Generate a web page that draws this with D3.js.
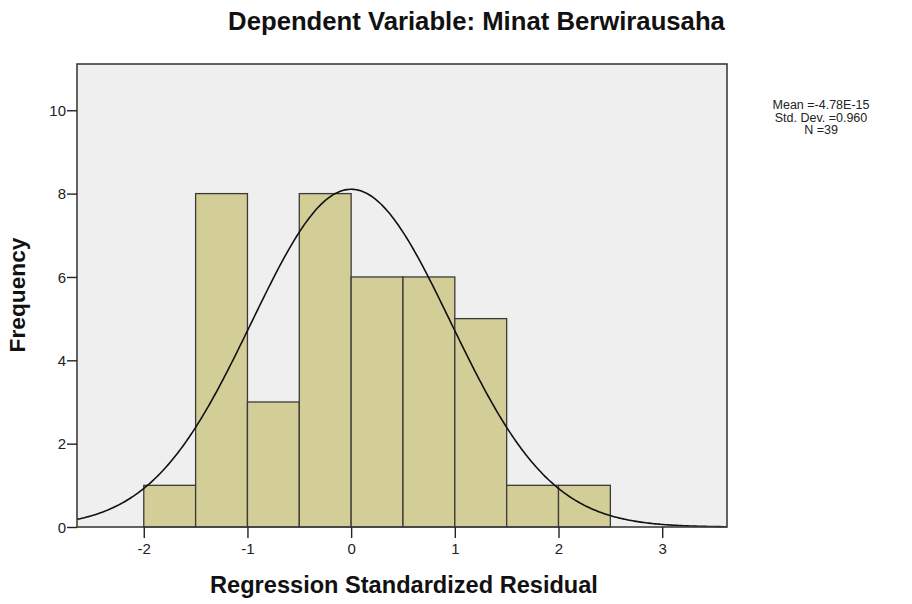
<!DOCTYPE html>
<html><head><meta charset="utf-8">
<script src="https://cdn.jsdelivr.net/npm/d3@7"></script>
<style>body{margin:0;background:#fff}svg{display:block}text{font-family:"Liberation Sans",Arial,sans-serif}</style>
</head><body>
<script>
const binStarts = [-2, -1.5, -1, -0.5, 0, 0.5, 1, 1.5, 2];
const binWidth = 0.5;
const frequencies = [1, 8, 3, 8, 6, 6, 5, 1, 1];
const xTicks = [-2, -1, 0, 1, 2, 3];
const yTicks = [0, 2, 4, 6, 8, 10];
const statLines = ["Mean =-4.78E-15", "Std. Dev. =0.960", "N =39"];
const mean = -4.78e-15, sd = 0.960, n = 39;

const W = 912, H = 604;
const m = {l: 77, t: 64, r: 727, b: 527};
const svg = d3.select("body").append("svg").attr("width", W).attr("height", H);
const x = d3.scaleLinear().domain([-2.644, 3.625]).range([m.l, m.r]);
const y = d3.scaleLinear().domain([0, 11.11]).range([m.b, m.t]);

svg.append("rect").attr("x", m.l).attr("y", m.t).attr("width", m.r - m.l).attr("height", m.b - m.t)
  .attr("fill", "#efefef");

const bins = binStarts.map((s, i) => ({x0: s, x1: s + binWidth, f: frequencies[i]}));
svg.append("g").selectAll("rect").data(bins).join("rect")
  .attr("x", d => x(d.x0)).attr("width", d => x(d.x1) - x(d.x0))
  .attr("y", d => y(d.f)).attr("height", d => y(0) - y(d.f))
  .attr("fill", "#d3ce98").attr("stroke", "#3a3a3a").attr("stroke-width", 1.3);

const pts = d3.range(0, 401).map(i => {
  const v = -2.644 + (3.625 + 2.644) * i / 400;
  const z = (v - mean) / sd;
  return [v, n * binWidth * Math.exp(-0.5 * z * z) / (sd * Math.sqrt(2 * Math.PI))];
});
svg.append("path").datum(pts)
  .attr("d", d3.line().x(d => x(d[0])).y(d => y(d[1])))
  .attr("fill", "none").attr("stroke", "#111").attr("stroke-width", 1.6);

svg.append("rect").attr("x", m.l).attr("y", m.t).attr("width", m.r - m.l).attr("height", m.b - m.t)
  .attr("fill", "none").attr("stroke", "#3c3c3c").attr("stroke-width", 1.6);

const xa = svg.append("g").attr("transform", `translate(0,${m.b})`)
  .call(d3.axisBottom(x).tickValues(xTicks).tickSize(11).tickSizeOuter(0).tickFormat(d => String(d)));
const ya = svg.append("g").attr("transform", `translate(${m.l},0)`)
  .call(d3.axisLeft(y).tickValues(yTicks).tickSize(10).tickSizeOuter(0).tickFormat(d => String(d)));
[xa, ya].forEach(a => {
  a.attr("font-size", null).attr("font-family", null);
  a.select(".domain").remove();
  a.selectAll("line").attr("stroke", "#222").attr("stroke-width", 1.4);
  a.selectAll("text").attr("fill", "#222").style("font-size", "15px");
});
xa.selectAll("text").attr("y", 16).attr("dy", "0.71em");
ya.selectAll("text").attr("x", -11).attr("dy", "0.34em");

function fit(t, w) {
  const L = t.node().getComputedTextLength();
  const fs = parseFloat(t.style("font-size"));
  t.style("font-size", (fs * w / L) + "px");
}
const title = svg.append("text").attr("x", 476.5).attr("y", 30).attr("text-anchor", "middle")
  .style("font-size", "18px").style("font-weight", "bold").attr("fill", "#111")
  .text("Dependent Variable: Minat Berwirausaha");
fit(title, 497);
const xl = svg.append("text").attr("x", 404).attr("y", 593).attr("text-anchor", "middle")
  .style("font-size", "18px").style("font-weight", "bold").attr("fill", "#111")
  .text("Regression Standardized Residual");
fit(xl, 388);
const yl = svg.append("text").attr("transform", "translate(25,295) rotate(-90)").attr("text-anchor", "middle")
  .style("font-size", "18px").style("font-weight", "bold").attr("fill", "#111")
  .text("Frequency");
fit(yl, 115);

const st = svg.append("g");
statLines.forEach((s, i) => {
  st.append("text").attr("x", 821).attr("y", 109 + i * 12.5).attr("text-anchor", "middle")
    .style("font-size", "12.5px").attr("fill", "#222").text(s);
});
</script>
</body></html>
